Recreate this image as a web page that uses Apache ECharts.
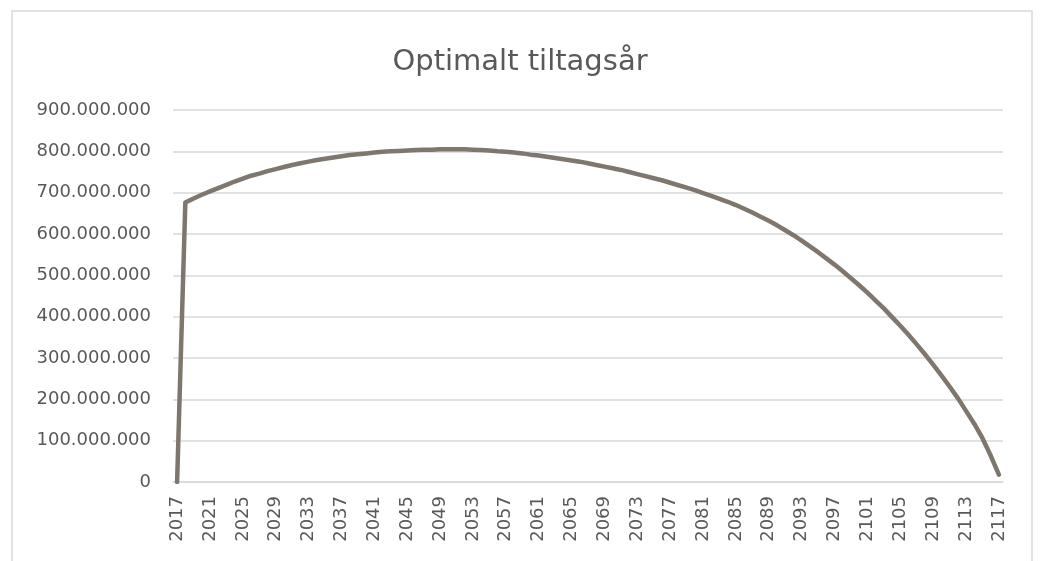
<!DOCTYPE html>
<html>
<head>
<meta charset="utf-8">
<script src="https://cdn.jsdelivr.net/npm/echarts@6/dist/echarts.min.js"></script>
<style>
  html, body { margin: 0; padding: 0; background: #fff; }
  #chart { width: 1040px; height: 561px; }
</style>
</head>
<body>
<div id="chart"></div>
<script>
// years 2017..2117
const years = []
for (let y = 2017; y <= 2117; y++) years.push(String(y))

// values in millions
const valuesMio = [
  0, 676, 686, 695, 703, 711, 719, 727, 734, 741,
  746, 752, 757, 762, 767, 771, 775, 779, 782, 785,
  788, 791, 793, 795, 797, 799, 800, 801, 802, 803,
  804, 804, 805, 805, 805, 805, 804, 803, 802, 800,
  799, 797, 795, 792, 790, 787, 784, 781, 778, 775,
  771, 767, 763, 759, 755, 750, 745, 740, 735, 730,
  724, 718, 712, 706, 699, 692, 685, 678, 670, 661,
  652, 642, 632, 621, 609, 597, 584, 570, 556, 541,
  526, 510, 493, 476, 458, 439, 420, 399, 378, 356,
  333, 309, 284, 258, 231, 203, 172, 141, 106, 64,
  18
]
const values = valuesMio.map(v => v * 1000000)

const titleText = 'Optimalt tiltagsår'
const textColor = '#595959'
const gridColor = '#d9d9d9'

function dotFormat(v) {
  return String(Math.round(v)).replace(/\B(?=(\d{3})+(?!\d))/g, '.')
}

const myChart = echarts.init(document.getElementById('chart'), null, { renderer: 'canvas' })
const option = {
  backgroundColor: '#fff',
  animation: false,
  textStyle: { fontFamily: 'DejaVu Sans' },
  title: {
    text: titleText,
    left: 'center',
    top: 43,
    textStyle: { fontFamily: 'DejaVu Sans', fontSize: 29, fontWeight: 'normal', color: textColor }
  },
  graphic: [
    {
      type: 'rect',
      shape: { x: 12, y: 11, width: 1020, height: 560 },
      style: { fill: 'none', stroke: gridColor, lineWidth: 1.5 },
      silent: true
    }
  ],
  grid: { left: 173, right: 37, top: 110, bottom: 79 },
  xAxis: {
    type: 'category',
    data: years,
    boundaryGap: true,
    axisLine: { lineStyle: { color: gridColor, width: 1.5 } },
    axisTick: { show: false },
    axisLabel: {
      interval: 3,
      rotate: 90,
      margin: 14,
      fontFamily: 'DejaVu Sans',
      fontSize: 18,
      color: textColor
    }
  },
  yAxis: {
    type: 'value',
    min: 0,
    max: 900000000,
    interval: 100000000,
    axisLine: { show: false },
    axisTick: { show: false },
    splitLine: { lineStyle: { color: gridColor, width: 1.5 } },
    axisLabel: {
      margin: 22,
      fontFamily: 'DejaVu Sans',
      fontSize: 18,
      color: textColor,
      formatter: dotFormat
    }
  },
  series: [
    {
      name: titleText,
      type: 'line',
      data: values,
      symbol: 'none',
      smooth: false,
      lineStyle: { color: '#7f776e', width: 4.5, cap: 'round', join: 'round' }
    }
  ]
}
myChart.setOption(option)
</script>
</body>
</html>
